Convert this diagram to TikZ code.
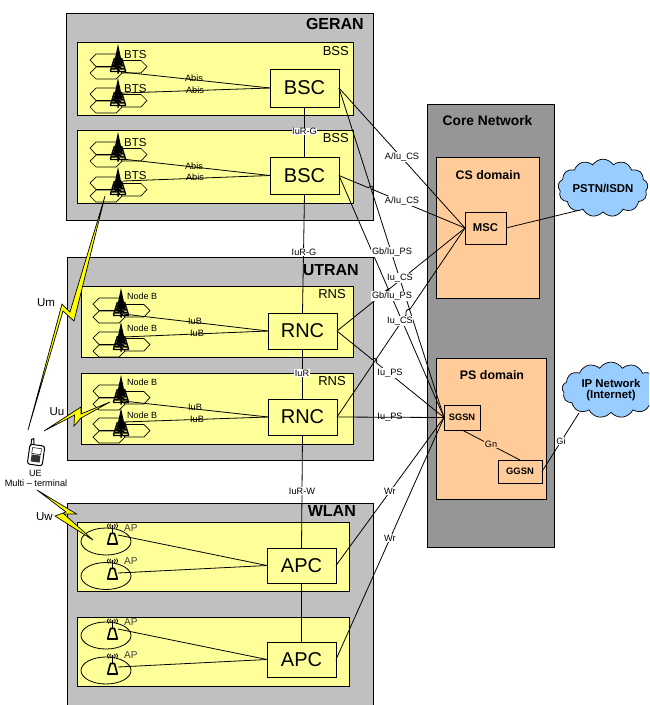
\documentclass[tikz,border=0pt]{standalone}
\usepackage{fontspec}
\setmainfont{Liberation Sans}
\usetikzlibrary{calc,shapes.symbols,shapes.geometric}
\definecolor{grp}{HTML}{C0C0C0}
\definecolor{yel}{HTML}{FFFF99}
\definecolor{org}{HTML}{FFCC99}
\definecolor{cor}{HTML}{969696}
\definecolor{cld}{HTML}{99CCFF}
\definecolor{bolt}{HTML}{FFFF00}
\newcommand{\fs}[1]{\fontsize{#1}{#1}\selectfont}
\tikzset{
  boxbase/.style={draw=black,line width=.9pt,inner sep=0pt,outer sep=0pt},
  grpbox/.style={boxbase,fill=grp},
  subbox/.style={boxbase,fill=yel},
  ctlbox/.style={boxbase,fill=yel,font=\fs{20}},
  corebox/.style={boxbase,fill=cor},
  dombox/.style={boxbase,fill=org},
  cnbox/.style={boxbase,fill=org,font=\bfseries\fs{9.3}},
  cellell/.style={draw=black,line width=.8pt,fill=yel,ellipse,inner sep=0pt,minimum width=50pt,minimum height=27pt},
  title/.style={anchor=east,inner sep=0pt,font=\bfseries\fs{16}},
  subtitle/.style={anchor=east,inner sep=0pt,font=\fs{13}},
  devlabel/.style={anchor=west,inner sep=0pt,font=\fs{11.5}},
  nblabel/.style={anchor=west,inner sep=0pt,font=\fs{9}},
  aplabel/.style={anchor=west,inner sep=0pt,text=black!75,font=\fs{10}},
  lnk/.style={draw=black,line width=.8pt},
  lab/.style={fill=white,inner sep=.6pt,font=\fs{9.2}},
  labn/.style={inner sep=0pt,font=\fs{9.2}},
  boltshape/.style={draw=black,fill=bolt,line width=.7pt,line join=miter},
  cloudnet/.style={cloud,draw=black,line width=.7pt,fill=cld,cloud puffs=13,cloud puff arc=115,
     aspect=1.8,inner sep=0pt,outer sep=0pt,align=center,font=\bfseries\fs{11.4}},
  pics/hexes/.style={code={
    \draw[fill=yel,line width=.7pt] (-3,22.5)--(3,16.5)--(23,16.5)--(29,22.5)--(23,29)--(3,29)--cycle;
    \draw[fill=yel,line width=.7pt] (-28,16)--(-22,10)--(-2,10)--(4,16)--(-2,22.5)--(-22,22.5)--cycle;
    \draw[fill=yel,line width=.7pt] (-28,29)--(-22,23)--(-2,23)--(4,29)--(-2,35)--(-22,35)--cycle;
  }},
  pics/tower/.style={code={
    \fill (0,0)--(3.2,15)--(4.5,21)--(-4.5,21)--(-3.2,15)--cycle;
    \draw[line width=1.5pt] (-3.5,14)--(-7.5,27) (3.5,14)--(7.5,27) (0,12)--(0,29.5);
    \draw[line width=1.1pt] (-5,22)--(5,22) (-6,25)--(6,25) (-8,27.5)--(8,27.5)
      (-5,21)--(6,25) (5,21)--(-6,25);
  }},
  pics/apicon/.style={code={
    \draw[line width=1.6pt,line join=round] (-2,9.5)--(2,9.5)--(4.8,20)--(-4.8,20)--cycle;
    \draw[line width=1.6pt] (0,1)--(0,9.5);
    \fill (0,2) circle (1.2pt);
    \draw[line width=.8pt] (-2,0) .. controls (-3,1.5) .. (-2,4) (2,0) .. controls (3,1.5) .. (2,4)
      (-4,-.5) .. controls (-5.5,1.5) .. (-4,4.5) (4,-.5) .. controls (5.5,1.5) .. (4,4.5);
  }},
}
\begin{document}
\begin{tikzpicture}[x=1pt,y=-1pt]
\useasboundingbox (0,0) rectangle (649,705);
\clip (0,0) rectangle (649,705);
% ---- containers
\node[grpbox,minimum width=307pt,minimum height=207pt] (geran) at (219.5,116.5) {};
\node[grpbox,minimum width=305.5pt,minimum height=203pt] (utran) at (220.25,358.5) {};
\node[grpbox,minimum width=306pt,minimum height=212pt] (wlan) at (220,609) {};
\node[corebox,minimum width=127pt,minimum height=443pt] (core) at (490.5,325.5) {};
\node[dombox,minimum width=103pt,minimum height=141pt] (csd) at (487.5,227.5) {};
\node[dombox,minimum width=110pt,minimum height=141pt] (psd) at (491,428.5) {};
\node[subbox,minimum width=276pt,minimum height=73pt] (bss1) at (215,78.5) {};
\node[subbox,minimum width=276pt,minimum height=73pt] (bss2) at (215,166.5) {};
\node[subbox,minimum width=271.5pt,minimum height=71pt] (rns1) at (217.25,321.5) {};
\node[subbox,minimum width=271.5pt,minimum height=71pt] (rns2) at (217.25,408.5) {};
\node[subbox,minimum width=272pt,minimum height=69pt] (wl1) at (213,556.5) {};
\node[subbox,minimum width=272pt,minimum height=69pt] (wl2) at (213,651.5) {};
% ---- titles
\node[title] (tg) at (364,24) {GERAN};
\node[title] (tu) at (359,270) {UTRAN};
\node[title] (tw) at (356,511) {WLAN};
\node[subtitle] (s1) at (349,51) {BSS};
\node[subtitle] (s2) at (349,138) {BSS};
\node[subtitle] (s3) at (346,294) {RNS};
\node[subtitle] (s4) at (346,381) {RNS};
\node[inner sep=0pt,font=\bfseries\fs{13.8}] (tc) at (487.5,121) {Core Network};
\node[inner sep=0pt,font=\bfseries\fs{12.4}] (tcs) at (488,175) {CS domain};
\node[inner sep=0pt,font=\bfseries\fs{12.4}] (tps) at (492,375) {PS domain};
% ---- radio icons
\foreach \y in {44,78,132,167} \path (118,\y) pic {hexes};
\foreach \y in {288,322,375,408} \path (121,\y) pic {hexes};
\foreach \y in {44,78,132,167} \path (118,\y) pic {tower};
\foreach \y in {288,322,375,408} \path (121,\y) pic {tower};
\node[cellell] (e1) at (106,541.5) {};
\node[cellell] (e2) at (106,576) {};
\node[cellell] (e3) at (106,635.5) {};
\node[cellell] (e4) at (106,670.5) {};
\foreach \y in {524,559,619,654} \path (112.5,\y) pic {apicon};
% ---- device labels
\node[devlabel] (l1) at (124,55) {BTS};
\node[devlabel] (l2) at (124,89) {BTS};
\node[devlabel] (l3) at (124,143) {BTS};
\node[devlabel] (l4) at (124,176) {BTS};
\node[nblabel] (n1) at (127,296) {Node B};
\node[nblabel] (n2) at (127,328) {Node B};
\node[nblabel] (n3) at (127,382) {Node B};
\node[nblabel] (n4) at (127,415) {Node B};
\node[aplabel] (a1) at (124,528) {AP};
\node[aplabel] (a2) at (124,561) {AP};
\node[aplabel] (a3) at (124,622) {AP};
\node[aplabel] (a4) at (124,655) {AP};
% ---- attachment points
\coordinate (bts1) at (122,72);
\coordinate (bts2) at (123,93);
\coordinate (bts3) at (122,159);
\coordinate (bts4) at (123,181);
\coordinate (nb1) at (123,314);
\coordinate (nb2) at (123,337);
\coordinate (nb3) at (123,401);
\coordinate (nb4) at (123,422);
\coordinate (ap1) at (118,535);
\coordinate (ap2) at (118,573);
\coordinate (ap3) at (118,629);
\coordinate (ap4) at (118,667);
\coordinate (pstnport) at (580,210);
\coordinate (ipport) at (579,413);
% ---- controllers and core nodes
\node[ctlbox,minimum width=69pt,minimum height=38pt] (bsc1) at (304.5,88) {BSC};
\node[ctlbox,minimum width=69pt,minimum height=37pt] (bsc2) at (304.5,175.5) {BSC};
\node[ctlbox,minimum width=69pt,minimum height=36pt] (rnc1) at (302.5,331) {RNC};
\node[ctlbox,minimum width=69pt,minimum height=36pt] (rnc2) at (302.5,417) {RNC};
\node[ctlbox,minimum width=69pt,minimum height=35pt] (apc1) at (301.5,565.5) {APC};
\node[ctlbox,minimum width=69pt,minimum height=35pt] (apc2) at (301.5,659.5) {APC};
\node[cnbox,font=\bfseries\fs{11.3},minimum width=41pt,minimum height=32pt] (msc) at (485.5,228) {MSC};
\node[cnbox,minimum width=36pt,minimum height=25pt] (sgsn) at (462,417.5) {SGSN};
\node[cnbox,font=\bfseries\fs{9.4},minimum width=44pt,minimum height=23pt] (ggsn) at (520,471.5) {GGSN};
% ---- access links
\draw[lnk] (bts1)--(bsc1.west);
\draw[lnk] (bts2)--(bsc1.west);
\draw[lnk] (bts3)--(bsc2.west);
\draw[lnk] (bts4)--(bsc2.west);
\draw[lnk] (nb1)--(rnc1.west);
\draw[lnk] (nb2)--(rnc1.west);
\draw[lnk] (nb3)--(rnc2.west);
\draw[lnk] (nb4)--(rnc2.west);
\draw[lnk] (ap1)--(apc1.west);
\draw[lnk] (ap2)--(apc1.west);
\draw[lnk] (ap3)--(apc2.west);
\draw[lnk] (ap4)--(apc2.west);
% ---- inter-controller links
\draw[lnk] (bsc1.south)--(bsc2.north);
\draw[lnk] (bsc2.south)--(rnc1.north);
\draw[lnk] (rnc1.south)--(rnc2.north);
\draw[lnk] (rnc2.south)--(apc1.north);
\draw[lnk] (apc1.south)--(apc2.north);
% ---- to core
\draw[lnk] (bsc1.east)--(msc.west);
\draw[lnk] (bsc1.east)--(sgsn.west);
\draw[lnk] (bsc2.east)--($(bsc2.east)!.235!(msc.west)$) .. controls +(1,-3.5) and +(3,-2.5) .. ($(bsc2.east)!.265!(msc.west)$)--(msc.west);
\draw[lnk] (bsc2.east)--(sgsn.west);
\draw[lnk] (rnc1.east)--($(rnc1.east)!.37!(msc.west)$) .. controls +(1,-3.5) and +(3,-2.5) .. ($(rnc1.east)!.40!(msc.west)$)--(msc.west);
\draw[lnk] (rnc2.east)--($(rnc2.east)!.54!(msc.west)$) .. controls +(-1,-3.5) and +(-3,-.5) .. ($(rnc2.east)!.57!(msc.west)$)--(msc.west);
\draw[lnk] (rnc1.east)--($(rnc1.east)!.33!(sgsn.west)$) .. controls +(1,-3.5) and +(3,-2.5) .. ($(rnc1.east)!.365!(sgsn.west)$)--(sgsn.west);
\draw[lnk] (rnc2.east)--(sgsn.west);
\draw[lnk] (apc1.east)--(sgsn.west);
\draw[lnk] (apc2.east)--(sgsn.west);
\draw[lnk] (sgsn.south)--(ggsn.north);
\draw[lnk] (msc.east)--(pstnport);
\draw[lnk] (ggsn.east)--(ipport);
% ---- clouds
\node[cloudnet,minimum width=90pt,minimum height=50pt] (pstn) at (603,188) {PSTN/ISDN};
\node[cloudnet,minimum width=98pt,minimum height=50pt] (ipnet) at (611,390) {IP Network\\(Internet)};
% ---- link labels
\node[labn] (q1) at (194,78) {Abis};
\node[labn] (q2) at (195,90) {Abis};
\node[labn] (q3) at (194,166) {Abis};
\node[labn] (q4) at (195,177) {Abis};
\node[labn] (q5) at (195,321) {IuB};
\node[labn] (q6) at (197,333) {IuB};
\node[labn] (q7) at (195,407) {IuB};
\node[labn] (q8) at (197,419) {IuB};
\node[lab] (r1) at (304.5,131.5) {IuR-G};
\node[lab] (r2) at (304,252) {IuR-G};
\node[lab] (r3) at (302,373) {IuR};
\node[lab] (r4) at (302,491) {IuR-W};
\node[lab] (c1) at (402,157) {A/Iu\_CS};
\node[lab] (c2) at (402,201) {A/Iu\_CS};
\node[lab] (c3) at (392,252) {Gb/Iu\_PS};
\node[lab] (c4) at (392,296) {Gb/Iu\_PS};
\node[lab] (c5) at (400,278) {Iu\_CS};
\node[lab] (c6) at (400,321) {Iu\_CS};
\node[lab] (c7) at (390,373) {Iu\_PS};
\node[labn] (c8) at (390,417) {Iu\_PS};
\node[lab] (c9) at (390,491) {Wr};
\node[lab] (c10) at (390,538) {Wr};
\node[lab,fill=org] (c11) at (491,444) {Gn};
\node[lab] (c12) at (561,441) {Gi};
% ---- radio links
\draw[boltshape] (105,196)--(70,312)--(62,304)--(28,430)--(63,311)--(74,321)--cycle;
\draw[boltshape] (44,431)--(81,407)--(81,414)--(110,402)--(81,418)--(74,426)--(74.5,415)--cycle;
\draw[boltshape] (37,490)--(76.5,514)--(64,514)--(93,540)--(55,516)--(66,512)--cycle;
\node[inner sep=0pt,font=\fs{11.5}] (um) at (46,303) {Um};
\node[inner sep=0pt,font=\fs{11.5}] (uu) at (57,412) {Uu};
\node[inner sep=0pt,font=\fs{11.5}] (uw) at (44.5,517) {Uw};
% ---- terminal
\begin{scope}[rotate around={-8:(36,452)}]
  \draw[line width=1pt,line join=round] (30,446)--(30,440)--(32,439)--(33,445);
  \draw[fill=white,line width=1pt,rounded corners=2.5pt] (29,445) rectangle (44,465);
  \draw[fill=white,line width=.5pt] (32,448) rectangle (41,454);
  \fill[black!80] (32,455) rectangle (41,462);
\end{scope}
\node[inner sep=0pt,font=\fs{9}] (ue) at (35.5,473) {UE};
\node[inner sep=0pt,font=\fs{9.2}] (mt) at (36,483) {Multi – terminal};
\end{tikzpicture}
\end{document}
